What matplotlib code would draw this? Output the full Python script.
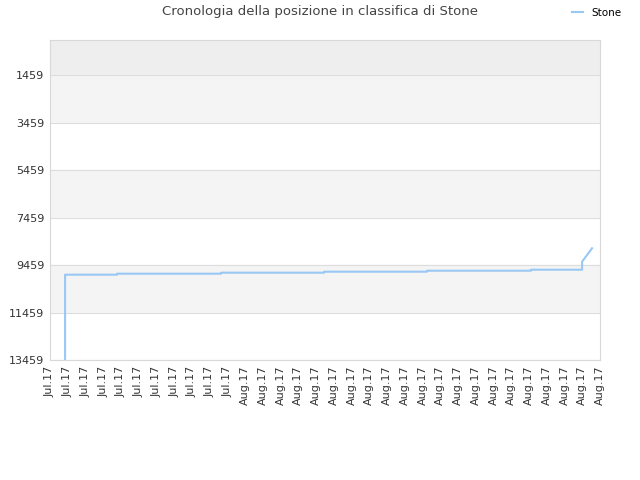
import matplotlib
matplotlib.use("Agg")
import matplotlib.pyplot as plt

# step positions (in tick units) and ranks
x_pts = [0.85, 0.85, 3.78, 3.78, 9.64, 9.64, 15.45, 15.45, 21.25, 21.25,
         27.11, 27.11, 29.99, 29.99, 30.55]
rank = [13459, 9867, 9867, 9825, 9825, 9783, 9783, 9741, 9741, 9699,
        9699, 9657, 9657, 9320, 8755]

tick_labels = ["Jul.17"] * 11 + ["Aug.17"] * 21
y_ticks = [1459, 3459, 5459, 7459, 9459, 11459, 13459]

fig = plt.figure(figsize=(6.4, 4.8), dpi=100)
ax = fig.add_axes([50 / 640, 120 / 480, 550 / 640, 320 / 480])

# alternating bands
ax.axhspan(0, 1459, color="#eeeeee", zorder=0)
bands = [(1459, 3459, "#f4f4f4"), (3459, 5459, "#ffffff"),
         (5459, 7459, "#f4f4f4"), (7459, 9459, "#ffffff"),
         (9459, 11459, "#f4f4f4"), (11459, 13459, "#ffffff")]
for lo, hi, c in bands:
    ax.axhspan(lo, hi, color=c, zorder=0)
for t in y_ticks:
    ax.axhline(t, color="#dddddd", lw=0.8, zorder=1)

ax.plot(x_pts, rank, color="#99c8f5", lw=1.5, zorder=3, label="Stone")

ax.set_xlim(0, 31)
ax.set_ylim(13459, -15)
ax.set_yticks(y_ticks)
ax.set_yticklabels([str(t) for t in y_ticks], fontsize=8, color="#333333")
ax.set_xticks(range(len(tick_labels)))
ax.set_xticklabels(tick_labels, rotation=90, fontsize=8, color="#333333")
ax.tick_params(length=0, pad=4)
for s in ax.spines.values():
    s.set_color("#d8d8d8")

fig.text(0.5, 1 - 12 / 480, "Cronologia della posizione in classifica di Stone",
         ha="center", va="center", fontsize=9.5, color="#444444")
fig.legend(loc="center right", bbox_to_anchor=(0.985, 1 - 13 / 480), frameon=False,
           fontsize=7.5, handlelength=1.0, handletextpad=0.8)

fig.savefig("out.png", dpi=100)
